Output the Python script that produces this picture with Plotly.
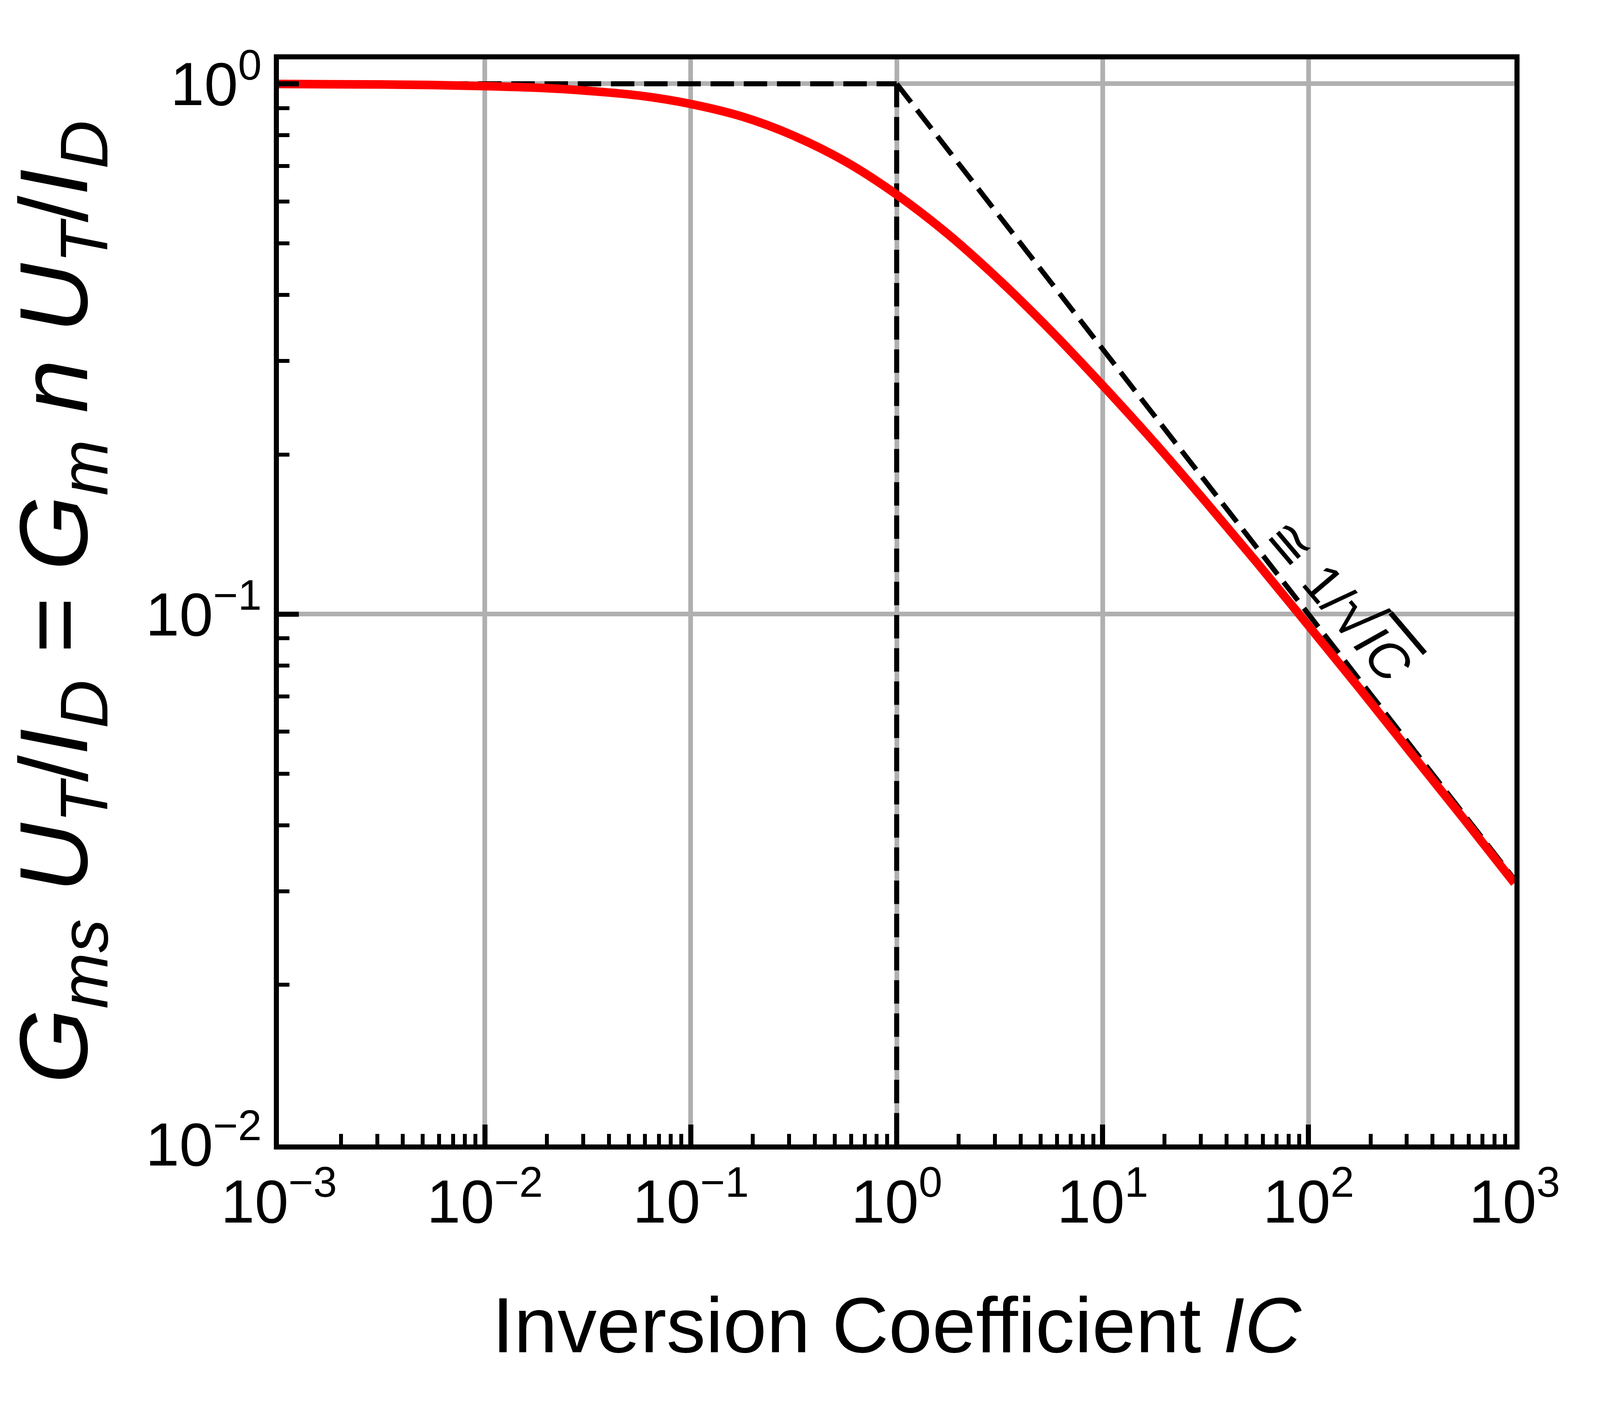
import math
import plotly.graph_objects as go

# ---- data ----
ic_values = [0.001, 0.00178, 0.00316, 0.00562, 0.01, 0.0178, 0.0316, 0.0562,
             0.1, 0.178, 0.316, 0.562, 1.0, 1.78, 3.16, 5.62,
             10.0, 17.8, 31.6, 56.2, 100.0, 178.0, 316.0, 562.0, 1000.0]
gm_norm = [0.999, 0.998, 0.997, 0.9945, 0.990, 0.983, 0.970, 0.950,
           0.916, 0.867, 0.798, 0.714, 0.618, 0.520, 0.426, 0.342,
           0.270, 0.211, 0.163, 0.125, 0.0951, 0.0722, 0.0546, 0.0413, 0.0311]

# asymptotes (dashed)
weak_x = [0.001, 1.0]
weak_y = [1.0, 1.0]
mid_x = [1.0, 1.0]
mid_y = [1.0, 0.01]
strong_x = [1.0, 1000.0]
strong_y = [1.0, 0.0316]

x_tickvals = [0.001, 0.01, 0.1, 1, 10, 100, 1000]
x_ticktext = ["10<sup>\u22123</sup>", "10<sup>\u22122</sup>", "10<sup>\u22121</sup>",
              "10<sup>0</sup>", "10<sup>1</sup>", "10<sup>2</sup>", "10<sup>3</sup>"]
y_tickvals = [0.01, 0.1, 1]
y_ticktext = ["10<sup>\u22122</sup>", "10<sup>\u22121</sup>", "10<sup>0</sup>"]

x_minor = [d * 10.0 ** k for k in range(-3, 3) for d in range(2, 10)]
y_minor = [d * 10.0 ** k for k in range(-2, 0) for d in range(2, 10)]

annot_text = ("\u2245 1/<span style='font-size:125%'>\u221a</span>"
              "<span style='text-decoration:overline'><i>IC</i></span>")
annot_x = 145
annot_y = 0.1075

FONT = "Liberation Sans, Arial, sans-serif"
W0, H0 = 4816, 3615
ML, MR, MT, MB = 840, 258, 152, 685
TICK_FS, XTITLE_FS, YTITLE_FS, ANN_FS = 183, 236, 246, 160
XSTAND, YSTAND = 165, 110
XLSTAND, YLSTAND = 0, 13
Y_RANGE = [-2, 0.046]

fig = go.Figure()
dash_style = dict(color="black", width=13, dash="60px,25px")
for xs, ys in [(weak_x, weak_y), (mid_x, mid_y), (strong_x, strong_y)]:
    fig.add_trace(go.Scatter(x=xs, y=ys, mode="lines", line=dash_style,
                             showlegend=False, hoverinfo="skip"))
fig.add_trace(go.Scatter(x=ic_values, y=gm_norm, mode="lines",
                         line=dict(color="#ff0000", width=22, shape="spline"),
                         showlegend=False))

axis_common = dict(
    type="log",
    showline=True, linecolor="black", linewidth=13, mirror=True,
    ticks="inside", ticklen=51, tickwidth=13, tickcolor="black",
    showgrid=True, gridcolor="#b0b0b0", gridwidth=12,
    zeroline=False,
    tickfont=dict(family=FONT, size=TICK_FS, color="black"),
    tickmode="array",
)

fig.update_xaxes(
    **axis_common,
    range=[-3, 3],
    tickvals=x_tickvals, ticktext=x_ticktext,
    ticklabelstandoff=XLSTAND,
    minor=dict(tickmode="array", tickvals=x_minor, ticks="inside", ticklen=27,
               tickwidth=10, tickcolor="black", showgrid=False),
    title=dict(text="Inversion Coefficient <i>IC</i>",
               font=dict(family=FONT, size=XTITLE_FS, color="black"), standoff=XSTAND),
)
fig.update_yaxes(
    **axis_common,
    range=Y_RANGE,
    tickvals=y_tickvals, ticktext=y_ticktext,
    ticklabelstandoff=YLSTAND,
    minor=dict(tickmode="array", tickvals=y_minor, ticks="inside", ticklen=27,
               tickwidth=10, tickcolor="black", showgrid=False),
    title=dict(text="<i>G<sub>ms</sub></i> <i>U<sub>T</sub></i>/<i>I<sub>D</sub></i> = "
                    "<i>G<sub>m</sub></i> <i>n</i> <i>U<sub>T</sub></i>/<i>I<sub>D</sub></i>",
               font=dict(family=FONT, size=YTITLE_FS, color="black"), standoff=YSTAND),
)

# annotation positions on log axes are given in log10 units
fig.add_annotation(x=math.log10(annot_x), y=math.log10(annot_y), xref="x", yref="y",
                   text=annot_text, showarrow=False, textangle=45,
                   font=dict(family=FONT, size=ANN_FS, color="black"),
                   xanchor="center", yanchor="middle")

fig.update_layout(
    width=W0, height=H0,
    margin=dict(l=ML, r=MR, t=MT, b=MB),
    paper_bgcolor="white", plot_bgcolor="white",
    font=dict(family=FONT, color="black"),
    showlegend=False,
)

# Fit the figure to whatever viewport the page is opened in, keeping proportions.
post_js = """
var gd = document.getElementById('{plot_id}');
document.documentElement.style.margin = '0';
document.body.style.margin = '0';
document.body.style.overflow = 'hidden';
var W = window.innerWidth || %(W0)d, H = window.innerHeight || %(H0)d;
var sw = Math.min(W / %(W0)d, H / %(H0)d);
var sh = H / %(H0)d;
var ml = W * %(ML)d / %(W0)d, mr = W * %(MR)d / %(W0)d;
var mt = H * %(MT)d / %(H0)d, mb = H * %(MB)d / %(H0)d;
var pw = W - ml - mr, ph = H - mt - mb;
var ang = Math.atan((0.5 * ph / %(YSPAN)f) / (pw / 6.0)) * 180 / Math.PI - 2.5;
Plotly.relayout(gd, {
  'width': W, 'height': H,
  'margin.l': ml, 'margin.r': mr, 'margin.t': mt, 'margin.b': mb,
  'xaxis.tickfont.size': %(TF)d * sw, 'yaxis.tickfont.size': %(TF)d * sw,
  'xaxis.title.font.size': %(XF)d * sw, 'yaxis.title.font.size': %(YF)d * sh,
  'xaxis.title.standoff': %(XS)d * sh, 'yaxis.title.standoff': %(YS)d * sw,
  'yaxis.ticklabelstandoff': %(YLS)d * sw,
  'annotations[0].font.size': %(AF)d * sw,
  'annotations[0].textangle': ang
});
""" % dict(W0=W0, H0=H0, ML=ML, MR=MR, MT=MT, MB=MB,
           YSPAN=Y_RANGE[1] - Y_RANGE[0], TF=TICK_FS, XF=XTITLE_FS, YF=YTITLE_FS,
           XS=XSTAND, YS=YSTAND, YLS=YLSTAND, AF=ANN_FS)

fig.write_html("out.html", post_script=post_js,
               config={"displayModeBar": False})
